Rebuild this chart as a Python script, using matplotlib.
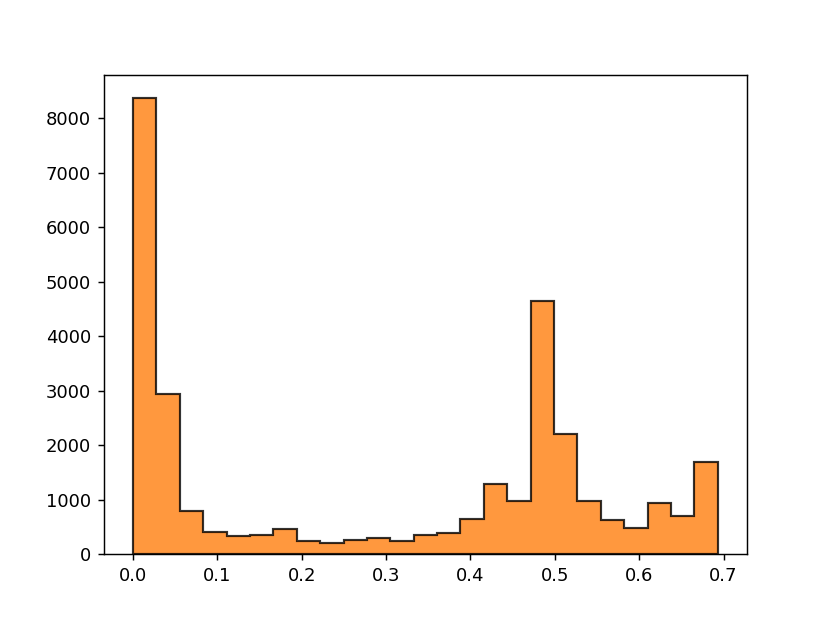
import numpy as np
import matplotlib
matplotlib.use('Agg')
import matplotlib.pyplot as plt

# counts per bin (25 bins from 0 to ln 2)
counts = [8374, 2950, 805, 420, 347, 360, 476, 256, 206, 267, 299, 244, 354,
          402, 648, 1283, 978, 4650, 2200, 984, 630, 494, 935, 696, 1700]
x_min = 0.0
x_max = np.log(2)

edges = np.linspace(x_min, x_max, len(counts) + 1)
centers = (edges[:-1] + edges[1:]) / 2

fig, ax = plt.subplots(figsize=(830 / 130, 623 / 130), dpi=130)

ax.hist(centers, bins=edges, weights=counts, histtype='stepfilled',
        color='C1', edgecolor='k', alpha=0.8, linewidth=1.2)

plt.savefig('out.png', dpi=130)
plt.close()
